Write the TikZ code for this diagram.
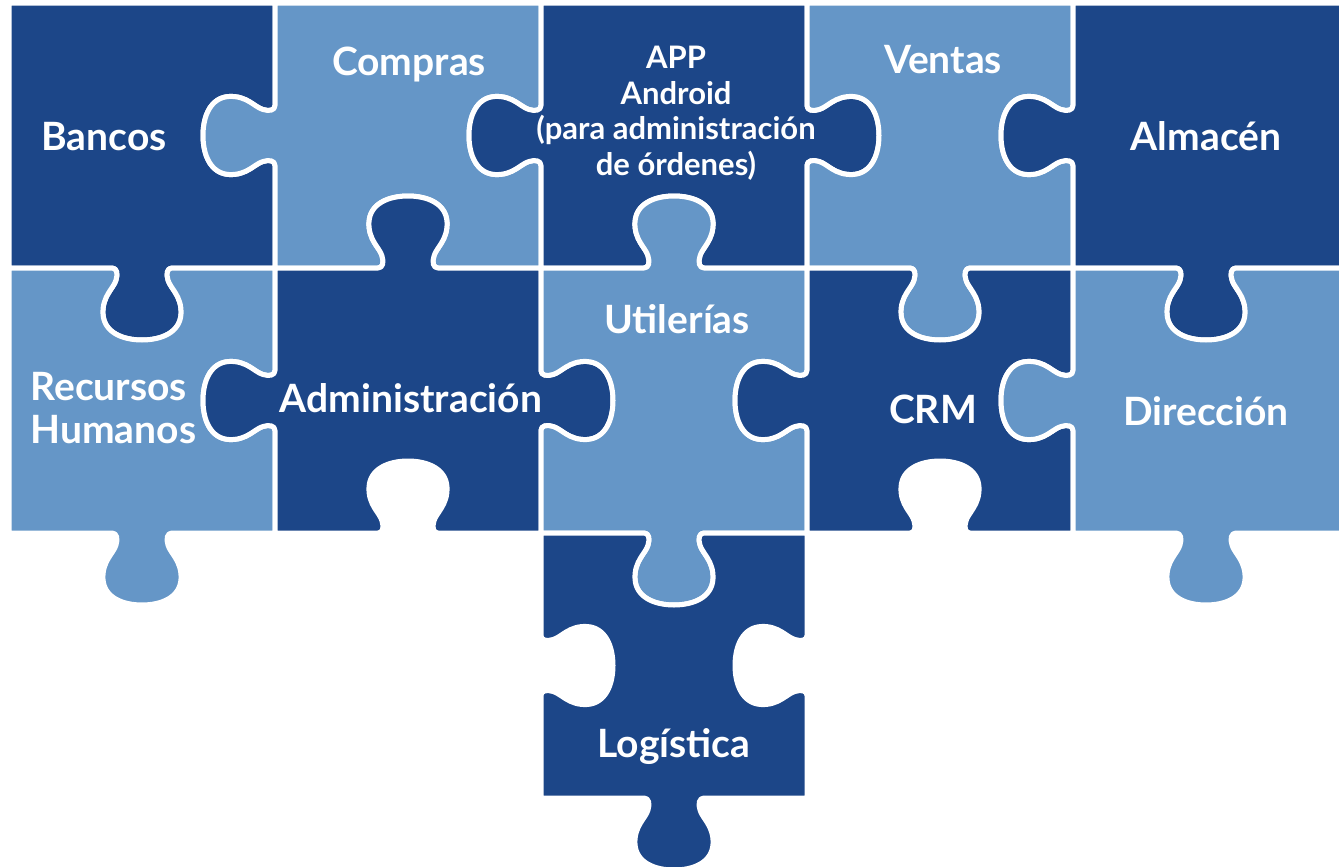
\documentclass[tikz,border=0pt]{standalone}
\usepackage{fontspec}
\setmainfont{Lato}
\definecolor{darkpz}{RGB}{28,70,136}
\definecolor{lightpz}{RGB}{101,150,199}
\newcommand\knob[4]{{[shift={(#1,#2)},rotate=#3,yscale=#4] -- (-30,0) .. controls (-25,0) and (-24,6) .. (-26,12) .. controls (-28,20) and (-40,28) .. (-39,46) .. controls (-38,64) and (-20,72) .. (0,72) .. controls (20,72) and (38,64) .. (39,46) .. controls (40,28) and (28,20) .. (26,12) .. controls (24,6) and (25,0) .. (30,0)}}
\begin{document}
\begin{tikzpicture}[x=.5pt,y=.5pt,
  piece/.style={draw=white,line width=2.5pt,line join=round},
  lbl/.style={text=white,inner sep=0pt,font=\bfseries\fontsize{19.5}{21.5}\selectfont}]
\useasboundingbox (0,0) rectangle (1339,-867);
\draw[piece,fill=darkpz] (9,-3) -- (275,-3) \knob{275}{-135.5}{-90}{-1} -- (275,-268) \knob{142}{-268}{180}{1} -- (9,-268) -- cycle;
\draw[piece,fill=lightpz] (275,-3) -- (541,-3) \knob{541}{-135.5}{-90}{-1} -- (541,-268) \knob{408}{-268}{180}{-1} -- (275,-268) \knob{275}{-135.5}{90}{1} -- cycle;
\draw[piece,fill=darkpz] (541,-3) -- (807,-3) \knob{807}{-135.5}{-90}{1} -- (807,-268) \knob{674}{-268}{180}{-1} -- (541,-268) \knob{541}{-135.5}{90}{1} -- cycle;
\draw[piece,fill=lightpz] (807,-3) -- (1073,-3) \knob{1073}{-135.5}{-90}{-1} -- (1073,-268) \knob{940}{-268}{180}{1} -- (807,-268) \knob{807}{-135.5}{90}{-1} -- cycle;
\draw[piece,fill=darkpz] (1073,-3) -- (1342,-3) -- (1342,-268) \knob{1206}{-268}{180}{1} -- (1073,-268) \knob{1073}{-135.5}{90}{1} -- cycle;
\draw[piece,fill=lightpz] (9,-268) \knob{142}{-268}{0}{-1} -- (275,-268) \knob{275}{-400.5}{-90}{-1} -- (275,-533) \knob{142}{-533}{180}{1} -- (9,-533) -- cycle;
\draw[piece,fill=darkpz] (275,-268) \knob{408}{-268}{0}{1} -- (541,-268) \knob{541}{-400.5}{-90}{1} -- (541,-533) \knob{408}{-533}{180}{-1} -- (275,-533) \knob{275}{-400.5}{90}{1} -- cycle;
\draw[piece,fill=lightpz] (541,-268) \knob{674}{-268}{0}{1} -- (807,-268) \knob{807}{-400.5}{-90}{-1} -- (807,-533) \knob{674}{-533}{180}{1} -- (541,-533) \knob{541}{-400.5}{90}{-1} -- cycle;
\draw[piece,fill=darkpz] (807,-268) \knob{940}{-268}{0}{-1} -- (1073,-268) \knob{1073}{-400.5}{-90}{-1} -- (1073,-533) \knob{940}{-533}{180}{-1} -- (807,-533) \knob{807}{-400.5}{90}{1} -- cycle;
\draw[piece,fill=lightpz] (1073,-268) \knob{1206}{-268}{0}{-1} -- (1342,-268) -- (1342,-533) \knob{1206}{-533}{180}{1} -- (1073,-533) \knob{1073}{-400.5}{90}{1} -- cycle;
\draw[piece,fill=darkpz] (541,-533) \knob{674}{-533}{0}{-1} -- (807,-533) \knob{807}{-665.5}{-90}{-1} -- (807,-798) \knob{674}{-798}{180}{1} -- (541,-798) \knob{541}{-665.5}{90}{-1} -- cycle;
\node[lbl,anchor=base] (bancos) at (104,-150) {Bancos};
\node[lbl,anchor=base] (compras) at (409,-75) {Compras};
\node[lbl,anchor=base,align=center,font=\bfseries\fontsize{15.5}{17.75}\selectfont] (app) at (676,-175) {APP\\Android\\(para administración\\de órdenes)};
\node[lbl,anchor=base] (ventas) at (943,-73) {Ventas};
\node[lbl,anchor=base] (almacen) at (1206,-150) {Almacén};
\node[lbl,anchor=base west,align=left] (rh) at (30,-443) {Recursos\\Humanos};
\node[lbl,anchor=base] (admin) at (411,-412) {Administración};
\node[lbl,anchor=base] (util) at (677,-333) {Utilerías};
\node[lbl,anchor=base] (crm) at (933,-423) {CRM};
\node[lbl,anchor=base] (dir) at (1206,-425) {Dirección};
\node[lbl,anchor=base] (log) at (674,-757) {Logística};
\end{tikzpicture}
\end{document}
